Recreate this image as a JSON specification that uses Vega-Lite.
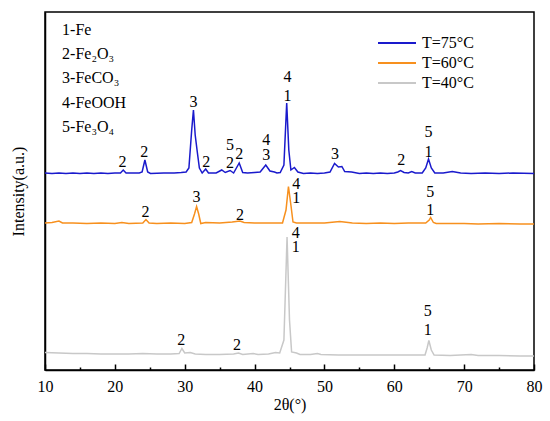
{
  "$schema": "https://vega.github.io/schema/vega-lite/v6.json",
  "width": 489,
  "height": 358,
  "autosize": {"type": "none"},
  "padding": {"left": 45, "top": 12, "right": 16, "bottom": 51},
  "background": "white",
  "config": {
    "view": {"stroke": "black", "strokeWidth": 1.5},
    "font": "Liberation Serif"
  },
  "datasets": {
    "xrd": [
      {"theta": 10, "intensity": 197, "sample": "T=75°C"},
      {"theta": 11, "intensity": 196.5, "sample": "T=75°C"},
      {"theta": 12, "intensity": 197, "sample": "T=75°C"},
      {"theta": 13, "intensity": 196.5, "sample": "T=75°C"},
      {"theta": 14, "intensity": 197, "sample": "T=75°C"},
      {"theta": 15, "intensity": 196.5, "sample": "T=75°C"},
      {"theta": 16, "intensity": 197, "sample": "T=75°C"},
      {"theta": 17, "intensity": 196.5, "sample": "T=75°C"},
      {"theta": 18, "intensity": 197, "sample": "T=75°C"},
      {"theta": 19, "intensity": 196.5, "sample": "T=75°C"},
      {"theta": 20, "intensity": 197, "sample": "T=75°C"},
      {"theta": 20.8, "intensity": 197, "sample": "T=75°C"},
      {"theta": 21.2, "intensity": 200, "sample": "T=75°C"},
      {"theta": 21.6, "intensity": 197, "sample": "T=75°C"},
      {"theta": 23.5, "intensity": 197, "sample": "T=75°C"},
      {"theta": 23.9, "intensity": 198, "sample": "T=75°C"},
      {"theta": 24.3, "intensity": 210, "sample": "T=75°C"},
      {"theta": 24.7, "intensity": 198, "sample": "T=75°C"},
      {"theta": 25.1, "intensity": 196.5, "sample": "T=75°C"},
      {"theta": 27, "intensity": 197, "sample": "T=75°C"},
      {"theta": 28.5, "intensity": 197, "sample": "T=75°C"},
      {"theta": 29.5, "intensity": 197.5, "sample": "T=75°C"},
      {"theta": 30.2, "intensity": 198, "sample": "T=75°C"},
      {"theta": 30.6, "intensity": 202, "sample": "T=75°C"},
      {"theta": 31.0, "intensity": 240, "sample": "T=75°C"},
      {"theta": 31.25, "intensity": 260, "sample": "T=75°C"},
      {"theta": 31.5, "intensity": 235, "sample": "T=75°C"},
      {"theta": 31.8, "intensity": 218, "sample": "T=75°C"},
      {"theta": 32.1, "intensity": 202, "sample": "T=75°C"},
      {"theta": 32.5, "intensity": 197, "sample": "T=75°C"},
      {"theta": 33.0, "intensity": 201, "sample": "T=75°C"},
      {"theta": 33.4, "intensity": 197, "sample": "T=75°C"},
      {"theta": 34.5, "intensity": 197, "sample": "T=75°C"},
      {"theta": 35.3, "intensity": 200, "sample": "T=75°C"},
      {"theta": 35.8, "intensity": 197.5, "sample": "T=75°C"},
      {"theta": 36.5, "intensity": 199.5, "sample": "T=75°C"},
      {"theta": 37.0, "intensity": 197, "sample": "T=75°C"},
      {"theta": 37.8, "intensity": 207, "sample": "T=75°C"},
      {"theta": 38.3, "intensity": 197.5, "sample": "T=75°C"},
      {"theta": 39, "intensity": 197, "sample": "T=75°C"},
      {"theta": 40, "intensity": 197.5, "sample": "T=75°C"},
      {"theta": 40.8, "intensity": 198, "sample": "T=75°C"},
      {"theta": 41.6, "intensity": 205, "sample": "T=75°C"},
      {"theta": 42.2, "intensity": 199, "sample": "T=75°C"},
      {"theta": 42.85, "intensity": 198, "sample": "T=75°C"},
      {"theta": 43.2, "intensity": 197, "sample": "T=75°C"},
      {"theta": 43.67, "intensity": 197.5, "sample": "T=75°C"},
      {"theta": 44.2, "intensity": 205, "sample": "T=75°C"},
      {"theta": 44.6, "intensity": 267, "sample": "T=75°C"},
      {"theta": 44.9, "intensity": 220, "sample": "T=75°C"},
      {"theta": 45.2, "intensity": 200, "sample": "T=75°C"},
      {"theta": 45.7, "intensity": 202.5, "sample": "T=75°C"},
      {"theta": 46.2, "intensity": 198, "sample": "T=75°C"},
      {"theta": 47, "intensity": 196.5, "sample": "T=75°C"},
      {"theta": 48, "intensity": 197, "sample": "T=75°C"},
      {"theta": 49, "intensity": 196.5, "sample": "T=75°C"},
      {"theta": 50, "intensity": 197, "sample": "T=75°C"},
      {"theta": 50.8, "intensity": 198, "sample": "T=75°C"},
      {"theta": 51.45, "intensity": 206.5, "sample": "T=75°C"},
      {"theta": 52.0, "intensity": 203, "sample": "T=75°C"},
      {"theta": 52.5, "intensity": 203.5, "sample": "T=75°C"},
      {"theta": 52.9, "intensity": 198.5, "sample": "T=75°C"},
      {"theta": 53.9, "intensity": 198, "sample": "T=75°C"},
      {"theta": 55, "intensity": 196.5, "sample": "T=75°C"},
      {"theta": 56, "intensity": 197, "sample": "T=75°C"},
      {"theta": 57, "intensity": 196.5, "sample": "T=75°C"},
      {"theta": 58, "intensity": 197, "sample": "T=75°C"},
      {"theta": 59, "intensity": 196.5, "sample": "T=75°C"},
      {"theta": 60, "intensity": 197, "sample": "T=75°C"},
      {"theta": 60.5, "intensity": 198, "sample": "T=75°C"},
      {"theta": 60.9, "intensity": 199.5, "sample": "T=75°C"},
      {"theta": 61.4, "intensity": 197.5, "sample": "T=75°C"},
      {"theta": 62, "intensity": 197, "sample": "T=75°C"},
      {"theta": 62.5, "intensity": 198.5, "sample": "T=75°C"},
      {"theta": 63, "intensity": 197, "sample": "T=75°C"},
      {"theta": 64.0, "intensity": 197, "sample": "T=75°C"},
      {"theta": 64.5, "intensity": 202, "sample": "T=75°C"},
      {"theta": 64.9, "intensity": 211, "sample": "T=75°C"},
      {"theta": 65.3, "intensity": 202, "sample": "T=75°C"},
      {"theta": 65.8, "intensity": 197, "sample": "T=75°C"},
      {"theta": 67, "intensity": 197, "sample": "T=75°C"},
      {"theta": 68.3, "intensity": 198.5, "sample": "T=75°C"},
      {"theta": 69.5, "intensity": 197, "sample": "T=75°C"},
      {"theta": 71, "intensity": 196.5, "sample": "T=75°C"},
      {"theta": 73, "intensity": 197, "sample": "T=75°C"},
      {"theta": 75, "intensity": 196.5, "sample": "T=75°C"},
      {"theta": 77, "intensity": 197, "sample": "T=75°C"},
      {"theta": 80, "intensity": 196.5, "sample": "T=75°C"},

      {"theta": 10, "intensity": 147, "sample": "T=60°C"},
      {"theta": 11, "intensity": 147.5, "sample": "T=60°C"},
      {"theta": 12, "intensity": 149, "sample": "T=60°C"},
      {"theta": 12.5, "intensity": 147, "sample": "T=60°C"},
      {"theta": 14, "intensity": 147, "sample": "T=60°C"},
      {"theta": 16, "intensity": 146.5, "sample": "T=60°C"},
      {"theta": 18, "intensity": 147, "sample": "T=60°C"},
      {"theta": 20, "intensity": 146.5, "sample": "T=60°C"},
      {"theta": 21, "intensity": 147.5, "sample": "T=60°C"},
      {"theta": 22, "intensity": 146.5, "sample": "T=60°C"},
      {"theta": 24, "intensity": 147, "sample": "T=60°C"},
      {"theta": 24.45, "intensity": 150.5, "sample": "T=60°C"},
      {"theta": 24.9, "intensity": 147, "sample": "T=60°C"},
      {"theta": 26, "intensity": 146.5, "sample": "T=60°C"},
      {"theta": 28, "intensity": 147, "sample": "T=60°C"},
      {"theta": 30, "intensity": 146.5, "sample": "T=60°C"},
      {"theta": 31.0, "intensity": 147.5, "sample": "T=60°C"},
      {"theta": 31.4, "intensity": 156, "sample": "T=60°C"},
      {"theta": 31.7, "intensity": 163.5, "sample": "T=60°C"},
      {"theta": 32.0, "intensity": 156, "sample": "T=60°C"},
      {"theta": 32.3, "intensity": 146.5, "sample": "T=60°C"},
      {"theta": 33, "intensity": 147.5, "sample": "T=60°C"},
      {"theta": 35, "intensity": 147, "sample": "T=60°C"},
      {"theta": 36.8, "intensity": 148, "sample": "T=60°C"},
      {"theta": 37.9, "intensity": 149, "sample": "T=60°C"},
      {"theta": 38.5, "intensity": 147.5, "sample": "T=60°C"},
      {"theta": 40, "intensity": 147, "sample": "T=60°C"},
      {"theta": 42, "intensity": 147, "sample": "T=60°C"},
      {"theta": 44.0, "intensity": 147, "sample": "T=60°C"},
      {"theta": 44.5, "intensity": 160, "sample": "T=60°C"},
      {"theta": 44.85, "intensity": 183.5, "sample": "T=60°C"},
      {"theta": 45.2, "intensity": 165, "sample": "T=60°C"},
      {"theta": 45.5, "intensity": 148, "sample": "T=60°C"},
      {"theta": 46, "intensity": 147, "sample": "T=60°C"},
      {"theta": 48, "intensity": 147, "sample": "T=60°C"},
      {"theta": 50, "intensity": 147, "sample": "T=60°C"},
      {"theta": 52.2, "intensity": 148.5, "sample": "T=60°C"},
      {"theta": 54, "intensity": 147, "sample": "T=60°C"},
      {"theta": 56, "intensity": 146.5, "sample": "T=60°C"},
      {"theta": 58, "intensity": 147, "sample": "T=60°C"},
      {"theta": 60, "intensity": 146.5, "sample": "T=60°C"},
      {"theta": 62, "intensity": 147, "sample": "T=60°C"},
      {"theta": 64.5, "intensity": 147, "sample": "T=60°C"},
      {"theta": 65.0, "intensity": 150, "sample": "T=60°C"},
      {"theta": 65.2, "intensity": 152.5, "sample": "T=60°C"},
      {"theta": 65.6, "intensity": 147.5, "sample": "T=60°C"},
      {"theta": 66, "intensity": 146.5, "sample": "T=60°C"},
      {"theta": 68, "intensity": 146.5, "sample": "T=60°C"},
      {"theta": 70, "intensity": 146.5, "sample": "T=60°C"},
      {"theta": 72, "intensity": 146, "sample": "T=60°C"},
      {"theta": 75, "intensity": 146.5, "sample": "T=60°C"},
      {"theta": 78, "intensity": 146, "sample": "T=60°C"},
      {"theta": 80, "intensity": 146, "sample": "T=60°C"},

      {"theta": 10, "intensity": 17.5, "sample": "T=40°C"},
      {"theta": 12, "intensity": 17, "sample": "T=40°C"},
      {"theta": 14, "intensity": 16.5, "sample": "T=40°C"},
      {"theta": 16, "intensity": 16.5, "sample": "T=40°C"},
      {"theta": 18, "intensity": 16, "sample": "T=40°C"},
      {"theta": 20, "intensity": 16, "sample": "T=40°C"},
      {"theta": 22, "intensity": 16, "sample": "T=40°C"},
      {"theta": 24, "intensity": 16.5, "sample": "T=40°C"},
      {"theta": 26, "intensity": 16, "sample": "T=40°C"},
      {"theta": 28, "intensity": 16, "sample": "T=40°C"},
      {"theta": 29.2, "intensity": 16.5, "sample": "T=40°C"},
      {"theta": 29.6, "intensity": 21.5, "sample": "T=40°C"},
      {"theta": 30.0, "intensity": 17, "sample": "T=40°C"},
      {"theta": 30.8, "intensity": 17.5, "sample": "T=40°C"},
      {"theta": 31.5, "intensity": 16, "sample": "T=40°C"},
      {"theta": 33, "intensity": 15.5, "sample": "T=40°C"},
      {"theta": 35, "intensity": 15.5, "sample": "T=40°C"},
      {"theta": 37.0, "intensity": 16, "sample": "T=40°C"},
      {"theta": 37.7, "intensity": 17, "sample": "T=40°C"},
      {"theta": 38.3, "intensity": 15.5, "sample": "T=40°C"},
      {"theta": 39.8, "intensity": 16.5, "sample": "T=40°C"},
      {"theta": 40.5, "intensity": 15.5, "sample": "T=40°C"},
      {"theta": 42, "intensity": 16, "sample": "T=40°C"},
      {"theta": 43.0, "intensity": 17.5, "sample": "T=40°C"},
      {"theta": 43.6, "intensity": 17, "sample": "T=40°C"},
      {"theta": 44.2, "intensity": 30, "sample": "T=40°C"},
      {"theta": 44.65, "intensity": 133, "sample": "T=40°C"},
      {"theta": 45.0, "intensity": 50, "sample": "T=40°C"},
      {"theta": 45.3, "intensity": 18, "sample": "T=40°C"},
      {"theta": 46.0, "intensity": 17, "sample": "T=40°C"},
      {"theta": 46.5, "intensity": 15.5, "sample": "T=40°C"},
      {"theta": 48, "intensity": 15.5, "sample": "T=40°C"},
      {"theta": 49.0, "intensity": 16.5, "sample": "T=40°C"},
      {"theta": 49.5, "intensity": 15.5, "sample": "T=40°C"},
      {"theta": 52, "intensity": 15, "sample": "T=40°C"},
      {"theta": 55, "intensity": 15, "sample": "T=40°C"},
      {"theta": 58, "intensity": 15, "sample": "T=40°C"},
      {"theta": 62, "intensity": 15, "sample": "T=40°C"},
      {"theta": 64.4, "intensity": 15, "sample": "T=40°C"},
      {"theta": 64.7, "intensity": 22, "sample": "T=40°C"},
      {"theta": 64.95, "intensity": 29.5, "sample": "T=40°C"},
      {"theta": 65.3, "intensity": 20, "sample": "T=40°C"},
      {"theta": 65.7, "intensity": 15, "sample": "T=40°C"},
      {"theta": 68, "intensity": 14.5, "sample": "T=40°C"},
      {"theta": 71, "intensity": 15.5, "sample": "T=40°C"},
      {"theta": 72, "intensity": 14.5, "sample": "T=40°C"},
      {"theta": 75, "intensity": 14.5, "sample": "T=40°C"},
      {"theta": 78, "intensity": 14, "sample": "T=40°C"},
      {"theta": 80, "intensity": 14, "sample": "T=40°C"}
    ],
    "peaks": [
      {"theta": 21.1, "intensity": 208.3, "phase": "2"},
      {"theta": 24.2, "intensity": 218.3, "phase": "2"},
      {"theta": 31.24, "intensity": 267.7, "phase": "3"},
      {"theta": 33.1, "intensity": 207.7, "phase": "2"},
      {"theta": 36.5, "intensity": 225, "phase": "5"},
      {"theta": 36.5, "intensity": 207.3, "phase": "2"},
      {"theta": 37.8, "intensity": 216, "phase": "2"},
      {"theta": 41.66, "intensity": 230, "phase": "4"},
      {"theta": 41.66, "intensity": 215, "phase": "3"},
      {"theta": 44.7, "intensity": 292.7, "phase": "4"},
      {"theta": 44.7, "intensity": 274.3, "phase": "1"},
      {"theta": 51.5, "intensity": 216, "phase": "3"},
      {"theta": 61.0, "intensity": 210, "phase": "2"},
      {"theta": 64.9, "intensity": 237.7, "phase": "5"},
      {"theta": 64.9, "intensity": 218.3, "phase": "1"},
      {"theta": 24.4, "intensity": 158, "phase": "2"},
      {"theta": 31.7, "intensity": 173.3, "phase": "3"},
      {"theta": 37.9, "intensity": 155, "phase": "2"},
      {"theta": 45.95, "intensity": 185.7, "phase": "4"},
      {"theta": 45.95, "intensity": 171.7, "phase": "1"},
      {"theta": 65.15, "intensity": 177.7, "phase": "5"},
      {"theta": 65.15, "intensity": 160, "phase": "1"},
      {"theta": 29.5, "intensity": 30, "phase": "2"},
      {"theta": 37.5, "intensity": 25, "phase": "2"},
      {"theta": 45.9, "intensity": 137.3, "phase": "4"},
      {"theta": 45.9, "intensity": 123.3, "phase": "1"},
      {"theta": 64.8, "intensity": 59.3, "phase": "5"},
      {"theta": 64.8, "intensity": 40, "phase": "1"}
    ],
    "phases": [
      {"theta": 12.45, "intensity": 340, "name": "1-Fe"},
      {"theta": 12.45, "intensity": 316.5, "name": "2-Fe₂O₃"},
      {"theta": 12.45, "intensity": 292, "name": "3-FeCO₃"},
      {"theta": 12.45, "intensity": 267, "name": "4-FeOOH"},
      {"theta": 12.45, "intensity": 243, "name": "5-Fe₃O₄"}
    ]
  },
  "encoding": {
    "x": {
      "field": "theta",
      "type": "quantitative",
      "scale": {"domain": [10, 80], "nice": false},
      "axis": {
        "title": "2θ(°)",
        "values": [10, 15, 20, 25, 30, 35, 40, 45, 50, 55, 60, 65, 70, 75, 80],
        "labelExpr": "datum.value % 10 === 0 ? datum.label : ''",
        "grid": false,
        "domainColor": "black",
        "domainWidth": 1.5,
        "tickColor": "black",
        "tickWidth": 1.5,
        "tickSize": {"condition": {"test": "datum.value % 10 === 0", "value": -6}, "value": -3},
        "labelFont": "Liberation Serif",
        "labelFontSize": 16,
        "labelColor": "black",
        "labelPadding": 14,
        "labelFlush": false,
        "titleFont": "Liberation Serif",
        "titleFontSize": 16,
        "titleFontWeight": "normal",
        "titleColor": "black",
        "titlePadding": 2
      }
    },
    "y": {
      "field": "intensity",
      "type": "quantitative",
      "scale": {"domain": [0, 358], "nice": false},
      "axis": {
        "title": "Intensity(a.u.)",
        "ticks": false,
        "labels": false,
        "grid": false,
        "domainColor": "black",
        "domainWidth": 1.5,
        "titleFont": "Liberation Serif",
        "titleFontSize": 16,
        "titleFontWeight": "normal",
        "titleColor": "black",
        "titlePadding": 19
      }
    }
  },
  "layer": [
    {
      "data": {"name": "xrd"},
      "mark": {"type": "line", "strokeWidth": 1.5},
      "encoding": {
        "color": {
          "field": "sample",
          "type": "nominal",
          "sort": null,
          "scale": {
            "domain": ["T=75°C", "T=60°C", "T=40°C"],
            "range": ["#1a1acc", "#f7901e", "#c8c8c8"]
          },
          "legend": {
            "title": null,
            "orient": "none",
            "legendX": 332,
            "legendY": 22,
            "symbolType": "stroke",
            "symbolSize": 1444,
            "symbolStrokeWidth": 2,
            "clipHeight": 18,
            "labelFont": "Liberation Serif",
            "labelFontSize": 16,
            "labelColor": "black",
            "labelOffset": 5,
            "rowPadding": 2
          }
        }
      }
    },
    {
      "data": {"name": "peaks"},
      "mark": {"type": "text", "font": "Liberation Serif", "fontSize": 16, "color": "black", "baseline": "middle"},
      "encoding": {"text": {"field": "phase"}}
    },
    {
      "data": {"name": "phases"},
      "mark": {"type": "text", "font": "Liberation Serif", "fontSize": 16, "color": "black", "align": "left", "baseline": "middle"},
      "encoding": {"text": {"field": "name"}}
    }
  ]
}
